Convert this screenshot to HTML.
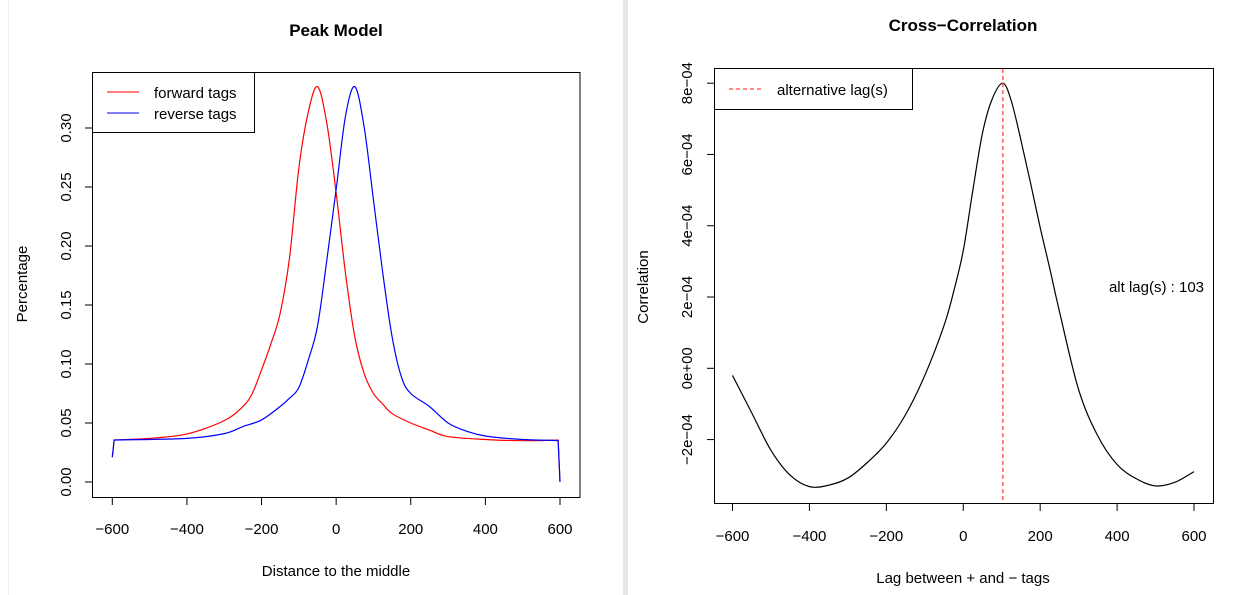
<!DOCTYPE html>
<html><head><meta charset="utf-8"><style>
body{margin:0;background:#fff;}
svg{display:block;font-family:"Liberation Sans",sans-serif;}
</style></head><body>
<svg id="c" width="1234" height="595" viewBox="0 0 1234 595">
<rect x="0" y="0" width="1234" height="595" fill="#fff"/>
<rect x="623" y="0" width="5" height="595" fill="#e6e6e6"/>
<line x1="8.5" y1="0" x2="8.5" y2="595" stroke="#eee"/>
<g id="left"></g>
<g id="right"></g>
</svg>
<script>
const peakX=[-600,-595,-500,-400,-300,-250,-225,-200,-175,-150,-125,-100,-75,-50,-25,0,25,50,75,100,125,150,200,250,300,400,500,595,600];
const forwardY=[0.021,0.0356,0.037,0.0407,0.052,0.064,0.075,0.095,0.117,0.143,0.19,0.266,0.313,0.335,0.304,0.245,0.177,0.123,0.092,0.075,0.066,0.058,0.050,0.044,0.0385,0.036,0.035,0.0355,0.0];
const reverseX=[-600,-595,-400,-300,-250,-200,-150,-125,-100,-75,-50,-25,0,25,50,75,100,125,150,175,200,250,300,350,400,500,595,600];
const reverseY=[0.021,0.0356,0.037,0.041,0.047,0.0526,0.064,0.071,0.080,0.103,0.132,0.188,0.248,0.31,0.335,0.301,0.239,0.177,0.123,0.089,0.075,0.064,0.05,0.043,0.039,0.036,0.0352,0.0];
const peakXTicks=[-600,-400,-200,0,200,400,600];
const peakYTicks=[0,0.05,0.10,0.15,0.20,0.25,0.30];
const peakYLabels=["0.00","0.05","0.10","0.15","0.20","0.25","0.30"];
const lagX=[-600,-550,-500,-450,-400,-350,-300,-250,-200,-150,-100,-50,-25,0,25,50,75,103,125,150,175,200,225,250,300,350,400,450,500,550,600];
const corrY=[-0.2,-1.25,-2.3,-3.0,-3.32,-3.28,-3.08,-2.65,-2.1,-1.3,-0.2,1.2,2.15,3.3,5.0,6.6,7.55,8.0,7.5,6.4,5.2,3.95,2.8,1.6,-0.6,-1.9,-2.7,-3.1,-3.3,-3.2,-2.9];
const lagTicks=[-600,-400,-200,0,200,400,600];
const corrTicks=[-2,0,2,4,6,8];
const corrLabels=["\u22122e\u221204","0e+00","2e\u221204","4e\u221204","6e\u221204","8e\u221204"];
const altLag=103;

const NS="http://www.w3.org/2000/svg";
function mk(p,tag,at,txt){const e=document.createElementNS(NS,tag);for(const k in at)e.setAttribute(k,at[k]);if(txt!==undefined)e.textContent=txt;p.appendChild(e);return e;}
function fmt(v){return v<0?"\u2212"+(-v):""+v;}
function smooth(P){let d='M'+P[0][0]+','+P[0][1];
 for(let i=0;i<P.length-1;i++){const p0=P[Math.max(0,i-1)],p1=P[i],p2=P[i+1],p3=P[Math.min(P.length-1,i+2)];
  d+=` C${p1[0]+(p2[0]-p0[0])/6},${p1[1]+(p2[1]-p0[1])/6} ${p2[0]-(p3[0]-p1[0])/6},${p2[1]-(p3[1]-p1[1])/6} ${p2[0]},${p2[1]}`;}
 return d;}

// LEFT
const L=document.getElementById('left');
const lx=v=>112.3+(v+600)*(447.7/1200);
const ly=v=>482-v*(354/0.30);
let e=mk(L,'rect',{x:92.5,y:72.5,width:487.5,height:425,fill:'none',stroke:'#000'});

peakXTicks.forEach(t=>{mk(L,'line',{x1:lx(t),x2:lx(t),y1:497.5,y2:505,stroke:'#000'});
 e=mk(L,'text',{x:lx(t),y:534,'font-size':15,'text-anchor':'middle'},fmt(t));
 });
peakYTicks.forEach((t,i)=>{mk(L,'line',{x1:85,x2:92.5,y1:ly(t),y2:ly(t),stroke:'#000'});
 e=mk(L,'text',{x:0,y:0,'font-size':15,'text-anchor':'middle',transform:`translate(71,${ly(t)}) rotate(-90)`},peakYLabels[i]);
 });
function line(p,xs,ys,fx,fy,col,name){
 const P=xs.map((x,i)=>[fx(x),fy(ys[i])]);
 let d='M'+P[0][0]+','+P[0][1]+' L'+P[1][0]+','+P[1][1];
 const mid=smooth(P.slice(1,P.length-1));
 d+=' '+mid.replace(/^M[^ C]+/,'')+' L'+P[P.length-1][0]+','+P[P.length-1][1];
 e=mk(p,'path',{d:d,fill:'none',stroke:col,'stroke-width':1.2});
 }
line(L,peakX,forwardY,lx,ly,'#f00','forward-tags-line');
line(L,reverseX,reverseY,lx,ly,'#00f','reverse-tags-line');
e=mk(L,'rect',{x:92.5,y:72.5,width:162,height:60,fill:'#fff',stroke:'#000'});

mk(L,'line',{x1:107,x2:139,y1:92,y2:92,stroke:'#f00'});
mk(L,'line',{x1:107,x2:139,y1:113,y2:113,stroke:'#00f'});
e=mk(L,'text',{x:154,y:98,'font-size':15},'forward tags');
e=mk(L,'text',{x:154,y:119,'font-size':15},'reverse tags');
e=mk(L,'text',{x:336,y:36,'font-size':17,'font-weight':'bold','text-anchor':'middle'},'Peak Model');
e=mk(L,'text',{x:336,y:576,'font-size':15,'text-anchor':'middle'},'Distance to the middle');
e=mk(L,'text',{x:0,y:0,'font-size':15,'text-anchor':'middle',transform:'translate(27,284) rotate(-90)'},'Percentage');

// RIGHT
const R=document.getElementById('right');
const rx=v=>732.5+(v+600)*(461.5/1200);
const ry=v=>368.3-v*35.64;
e=mk(R,'rect',{x:714.5,y:68.5,width:499,height:435,fill:'none',stroke:'#000'});

lagTicks.forEach(t=>{mk(R,'line',{x1:rx(t),x2:rx(t),y1:503.5,y2:511,stroke:'#000'});
 e=mk(R,'text',{x:rx(t),y:541,'font-size':15,'text-anchor':'middle'},fmt(t));
 });
corrTicks.forEach((t,i)=>{mk(R,'line',{x1:707,x2:714.5,y1:ry(t),y2:ry(t),stroke:'#000'});
 e=mk(R,'text',{x:0,y:0,'font-size':15,'text-anchor':'middle',transform:`translate(692,${ry(t)}) rotate(-90)`},corrLabels[i]);
 });
const P=lagX.map((x,i)=>[rx(x),ry(corrY[i])]);
e=mk(R,'path',{d:smooth(P),fill:'none',stroke:'#000','stroke-width':1.2});

e=mk(R,'line',{x1:rx(altLag),x2:rx(altLag),y1:69,y2:503,stroke:'#f44','stroke-width':1.3,'stroke-dasharray':'4,3'});

e=mk(R,'rect',{x:714.5,y:68.5,width:198,height:41,fill:'#fff',stroke:'#000'});

mk(R,'line',{x1:729,x2:762,y1:89,y2:89,stroke:'#f44','stroke-width':1.3,'stroke-dasharray':'4,3'});
e=mk(R,'text',{x:777,y:95,'font-size':15},'alternative lag(s)');
e=mk(R,'text',{x:1204,y:292,'font-size':15,'text-anchor':'end'},'alt lag(s) : '+altLag);
e=mk(R,'text',{x:963,y:31,'font-size':17,'font-weight':'bold','text-anchor':'middle'},'Cross\u2212Correlation');
e=mk(R,'text',{x:963,y:583,'font-size':15,'text-anchor':'middle'},'Lag between + and \u2212 tags');
e=mk(R,'text',{x:0,y:0,'font-size':15,'text-anchor':'middle',transform:'translate(648,287) rotate(-90)'},'Correlation');
</script>
</body></html>
